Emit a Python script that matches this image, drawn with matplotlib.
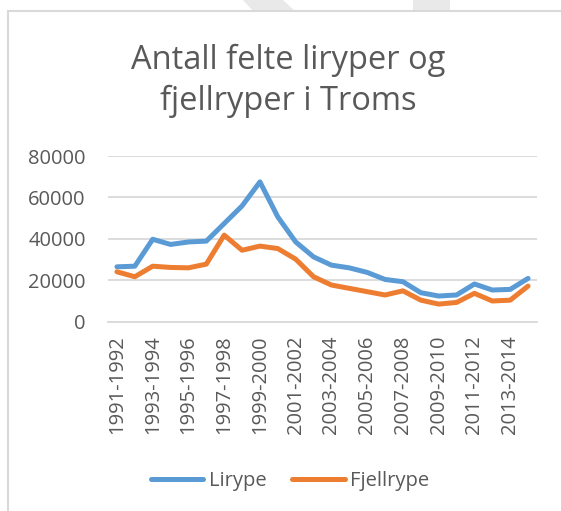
import matplotlib
matplotlib.use("Agg")
import matplotlib.pyplot as plt
from matplotlib.patches import Polygon, Rectangle
from matplotlib.lines import Line2D

seasons = [f"{y}-{y+1}" for y in range(1991, 2015)]
lirype = [26500, 26800, 39800, 37300, 38500, 38900, 47400, 55900, 67500, 50600,
          38500, 31300, 27300, 26000, 23800, 20400, 19300, 14000, 12400, 12900,
          18200, 15300, 15600, 20900]
fjellrype = [24100, 21700, 26800, 26200, 26000, 27800, 41800, 34500, 36500, 35300,
             30200, 21700, 17700, 16100, 14500, 12900, 14900, 10400, 8500, 9300,
             13700, 10000, 10400, 17200]
yticks = [0, 20000, 40000, 60000, 80000]

plt.rcParams['font.family'] = ['Open Sans', 'DejaVu Sans']
W, H = 561, 511
fig = plt.figure(figsize=(W/100, H/100), dpi=100)
fig.patch.set_facecolor('white')

# background decorations (watermark shapes and chart border)
fig.patches.append(Polygon([[243/W, 1], [283/W, 1], [295/W, 1-11/H], [253/W, 1-11/H]],
                           closed=True, transform=fig.transFigure, facecolor='#e9e9e9',
                           edgecolor='none', zorder=0))
fig.patches.append(Rectangle((413/W, 1-11/H), 37/W, 11/H, transform=fig.transFigure,
                             facecolor='#e9e9e9', edgecolor='none', zorder=0))
fig.patches.append(Rectangle((8/W, -0.01), 1.1, 1-11/H+0.01, transform=fig.transFigure,
                             facecolor='none', edgecolor='#d9d9d9', linewidth=1.5, zorder=0))

left, right = 108/W, 537/W
bottom, top = 1-321.7/H, 1-156/H
ax = fig.add_axes([left, bottom, right-left, top-bottom])
ax.set_facecolor('none')
x = list(range(len(seasons)))
ax.plot(x, lirype, color='#5b9bd5', lw=3.6, solid_capstyle='round', solid_joinstyle='round', label='Lirype')
ax.plot(x, fjellrype, color='#ed7d31', lw=3.6, solid_capstyle='round', solid_joinstyle='round', label='Fjellrype')
ax.set_ylim(0, 80000)
ax.set_xlim(-0.5, len(seasons)-0.5)
ax.set_yticks(yticks)
ax.set_yticklabels([str(v) for v in yticks], fontsize=14.5, color='#595959')
ax.set_xticks(x[::2])
ax.set_xticklabels(seasons[::2], rotation=90, fontsize=14.5, color='#595959')
ax.tick_params(length=0)
ax.tick_params(axis='x', pad=10)
ax.tick_params(axis='y', pad=16)
ax.grid(axis='y', color='#d9d9d9', lw=1.3)
ax.set_axisbelow(True)
for s in ['top', 'right', 'left']:
    ax.spines[s].set_visible(False)
ax.spines['bottom'].set_color('#d9d9d9')
ax.spines['bottom'].set_linewidth(1.3)

fig.text(288/W, 1-81/H, "Antall felte liryper og\nfjellryper i Troms", ha='center', va='center',
         fontsize=23.5, color='#595959', linespacing=1.3)

handles = [Line2D([0], [0], color='#5b9bd5', lw=3.6, solid_capstyle='round'),
           Line2D([0], [0], color='#ed7d31', lw=3.6, solid_capstyle='round')]
fig.legend(handles, ['Lirype', 'Fjellrype'], loc='center', bbox_to_anchor=(290/W, 1-481/H),
           ncol=2, frameon=False, fontsize=14.5, labelcolor='#595959', handlelength=2.6,
           handletextpad=0.25, columnspacing=1.3)

fig.savefig('out.png', dpi=100, facecolor='white')
